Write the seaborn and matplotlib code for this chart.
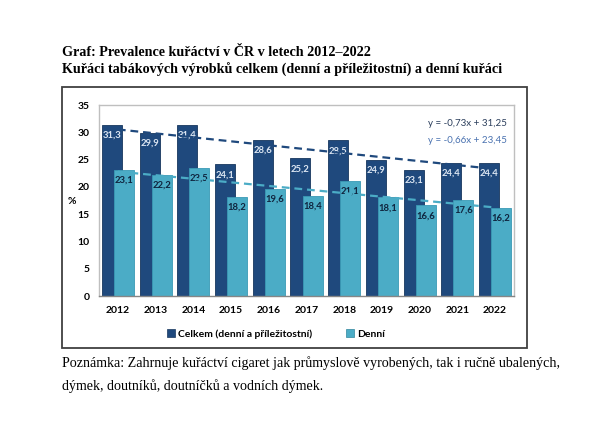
import pandas as pd
import seaborn as sns
import matplotlib.pyplot as plt
from matplotlib.patches import Patch, Rectangle

# data
years = [2012, 2013, 2014, 2015, 2016, 2017, 2018, 2019, 2020, 2021, 2022]
celkem = [31.3, 29.9, 31.4, 24.1, 28.6, 25.2, 28.5, 24.9, 23.1, 24.4, 24.4]
denni = [23.1, 22.2, 23.5, 18.2, 19.6, 18.4, 21.1, 18.1, 16.6, 17.6, 16.2]
series_names = ["Celkem (denní a příležitostní)", "Denní"]
equations = ["y = -0,73x + 31,25", "y = -0,66x + 23,45"]
y_ticks = [0, 5, 10, 15, 20, 25, 30, 35]

title1 = "Graf: Prevalence kuřáctví v ČR v letech 2012–2022"
title2 = "Kuřáci tabákových výrobků celkem (denní a příležitostní) a denní kuřáci"
note1 = "Poznámka: Zahrnuje kuřáctví cigaret jak průmyslově vyrobených, tak i ručně ubalených,"
note2 = "dýmek, doutníků, doutníčků a vodních dýmek."

dark = "#1F497D"
light = "#4BACC6"

df = pd.DataFrame({"rok": years, "celkem": celkem, "denni": denni})

sns.set_style("white")
plt.rcParams["font.family"] = ["Lato", "DejaVu Sans"]
plt.rcParams["text.color"] = "black"
plt.rcParams["xtick.color"] = "black"
plt.rcParams["ytick.color"] = "black"

W, H = 605, 426
fig = plt.figure(figsize=(W / 100, H / 100), dpi=100)
ax = fig.add_axes([99 / W, 1 - 296 / H, (514 - 99) / W, (296 - 105) / H])

# bars, the light ones overlap the dark ones a bit (as in Excel)
sns.barplot(x=df["rok"] - 0.16, y=df["celkem"], native_scale=True, width=0.53,
            color=dark, saturation=1, ax=ax, zorder=2, edgecolor="#17375E", linewidth=0.6)
sns.barplot(x=df["rok"] + 0.16, y=df["denni"], native_scale=True, width=0.53,
            color=light, saturation=1, ax=ax, zorder=2, edgecolor="#3A9AB5", linewidth=0.6)

# value labels inside the top of the bars
n = len(years)
for i, p in enumerate(ax.patches):
    val = p.get_height()
    col = "#DCE6F2" if i < n else "#0F243E"
    ax.annotate(f"{val:.1f}".replace(".", ","), (p.get_x() + p.get_width() / 2, val),
                xytext=(0, -7.5), textcoords="offset points", ha="center", va="center",
                fontsize=6.8, fontweight="bold", color=col, zorder=3)

# linear trends
sns.regplot(x="rok", y="celkem", data=df, scatter=False, ci=None, truncate=True, ax=ax,
            color=dark, line_kws=dict(ls=(0, (3.5, 2.2)), lw=1.6, zorder=4))
sns.regplot(x="rok", y="denni", data=df, scatter=False, ci=None, truncate=True, ax=ax,
            color=light, line_kws=dict(ls=(0, (3.5, 2.2)), lw=1.6, zorder=4))

ax.set_xlim(years[0] - 0.5, years[-1] + 0.5)
ax.set_ylim(0, 35)
ax.set_xticks(years)
ax.set_xticklabels([str(y) for y in years])
ax.set_xticks([y + 0.5 for y in [years[0] - 1] + years], minor=True)
ax.set_yticks(y_ticks)
ax.set_xlabel("")
ax.set_ylabel("")
ax.tick_params(axis="x", which="major", length=0, pad=7, labelsize=7.5)
ax.tick_params(axis="x", which="minor", length=3.5, width=0.8, color="#868686", direction="out")
ax.tick_params(axis="y", length=0, pad=7, labelsize=7.5)
for lab in ax.get_xticklabels() + ax.get_yticklabels():
    lab.set_fontweight("bold")
for s in ["left", "top", "right"]:
    ax.spines[s].set_color("#BFBFBF")
    ax.spines[s].set_linewidth(1)
ax.spines["bottom"].set_color("#868686")
ax.spines["bottom"].set_linewidth(1)

fig.text(72 / W, 1 - 202 / H, "%", ha="center", va="center", fontsize=7.5, fontweight="bold")

# trend equations
fig.text(507 / W, 1 - 124 / H, equations[0], ha="right", va="center", fontsize=7, color="#2B3E5C")
fig.text(507 / W, 1 - 140 / H, equations[1], ha="right", va="center", fontsize=7, color="#4A72B0")

# legend
handles = [Patch(facecolor=dark, edgecolor="#17375E", lw=0.5),
           Patch(facecolor=light, edgecolor="#31859C", lw=0.5)]
fig.legend(handles=handles, labels=series_names, loc="center", bbox_to_anchor=(276 / W, 1 - 334 / H),
           ncol=2, frameon=False, handlelength=0.75, handleheight=0.75, handletextpad=0.3,
           columnspacing=3.2, prop={"size": 7.5, "weight": "bold"})

# frame around the chart
fig.patches.append(Rectangle((62 / W, 1 - 348 / H), (527 - 62) / W, (348 - 87) / H,
                             transform=fig.transFigure, fill=False, ec="#404040", lw=1.3))

serif = ["Liberation Serif", "DejaVu Serif"]
fig.text(62 / W, 1 - 52 / H, title1, ha="left", va="center", fontsize=10.2, fontweight="bold", family=serif)
fig.text(62 / W, 1 - 70 / H, title2, ha="left", va="center", fontsize=10.2, fontweight="bold", family=serif)
fig.text(62 / W, 1 - 363 / H, note1, ha="left", va="center", fontsize=10.1, family=serif)
fig.text(62 / W, 1 - 386 / H, note2, ha="left", va="center", fontsize=10.1, family=serif)

fig.savefig("out.png", dpi=100, facecolor="white")
